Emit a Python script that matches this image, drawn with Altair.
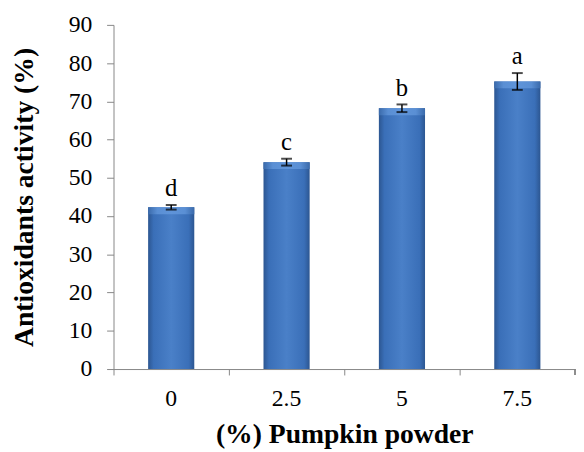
import altair as alt
import pandas as pd

categories = ["0", "2.5", "5", "7.5"]
values = [42.3, 54.1, 68.2, 75.2]
errors = [0.6, 0.9, 1.0, 2.2]
letters = ["d", "c", "b", "a"]

df = pd.DataFrame({"cat": categories, "val": values, "err": errors, "lab": letters})
df["lo"] = df["val"] - df["err"]
df["hi"] = df["val"] + df["err"]
df["bevel"] = df["val"] - 1.8

FONT = "Liberation Serif"
AX = "#868686"

xaxis = alt.Axis(title="(%)  Pumpkin powder", labelAngle=0, bandPosition=0,
                 domainColor=AX, tickColor=AX, tickSize=6, labelPadding=12,
                 labelFont=FONT, labelFontSize=24, labelColor="black",
                 titleFont=FONT, titleFontSize=28, titleFontWeight="bold",
                 titleColor="black", titleY=66, titleBaseline="middle")
yaxis = alt.Axis(title="Antioxidants activity (%)", values=list(range(0, 91, 10)),
                 labelOverlap=False, grid=False, domainColor=AX, tickColor=AX,
                 tickSize=7, labelPadding=15, labelFont=FONT, labelFontSize=24,
                 labelColor="black", titleFont=FONT, titleFontSize=28,
                 titleFontWeight="bold", titleColor="black", titleX=-90,
                 titleY=174.5, titleAngle=270, titleAlign="center",
                 titleBaseline="middle")
xscale = alt.Scale(paddingInner=0, paddingOuter=0)
yscale = alt.Scale(domain=[0, 90], nice=False)


def X():
    return alt.X("cat:N", sort=categories, scale=xscale, axis=xaxis)


def Y(field):
    return alt.Y(field, type="quantitative", scale=yscale, axis=yaxis)


grad = alt.Gradient(gradient="linear", x1=0, y1=0, x2=1, y2=0,
                    stops=[alt.GradientStop(color="#2c5691", offset=0),
                           alt.GradientStop(color="#3a6fb8", offset=0.12),
                           alt.GradientStop(color="#4a80c8", offset=0.5),
                           alt.GradientStop(color="#3a6fb8", offset=0.88),
                           alt.GradientStop(color="#2c5691", offset=1)])
grad_top = alt.Gradient(gradient="linear", x1=0, y1=0, x2=1, y2=0,
                        stops=[alt.GradientStop(color="#3a6aab", offset=0),
                               alt.GradientStop(color="#5a8fd4", offset=0.2),
                               alt.GradientStop(color="#5f94d9", offset=0.5),
                               alt.GradientStop(color="#5a8fd4", offset=0.8),
                               alt.GradientStop(color="#3a6aab", offset=1)])

bars = alt.Chart(df).mark_bar(color=grad, width={"band": 0.4}).encode(
    x=X(), y=Y("val"))
bevel = alt.Chart(df).mark_bar(color=grad_top, width={"band": 0.4}).encode(
    x=X(), y=Y("bevel"), y2="val:Q")
rules = alt.Chart(df).mark_rule(color="black", strokeWidth=1.5).encode(
    x=X(), y=Y("lo"), y2="hi:Q")
caps_lo = alt.Chart(df).mark_tick(color="black", thickness=2, size=11, orient="horizontal").encode(
    x=X(), y=Y("lo"))
caps_hi = alt.Chart(df).mark_tick(color="black", thickness=2, size=11, orient="horizontal").encode(
    x=X(), y=Y("hi"))
text = alt.Chart(df).mark_text(font=FONT, fontSize=25, dy=-9, baseline="alphabetic",
                               color="black").encode(
    x=X(), y=Y("hi"), text="lab:N")

end_tick = alt.Chart(df).mark_rule(color=AX).encode(
    x=alt.value(468), y=alt.value(349), y2=alt.value(355))

chart = alt.layer(bars, bevel, rules, caps_lo, caps_hi, text, end_tick).properties(
    width=468, height=349,
    autosize=alt.AutoSizeParams(type="none"),
    padding={"left": 107, "top": 14, "right": 1, "bottom": 81},
).configure_view(stroke=None)

chart.save("out.html", embed_options={"renderer": "svg", "actions": False})
